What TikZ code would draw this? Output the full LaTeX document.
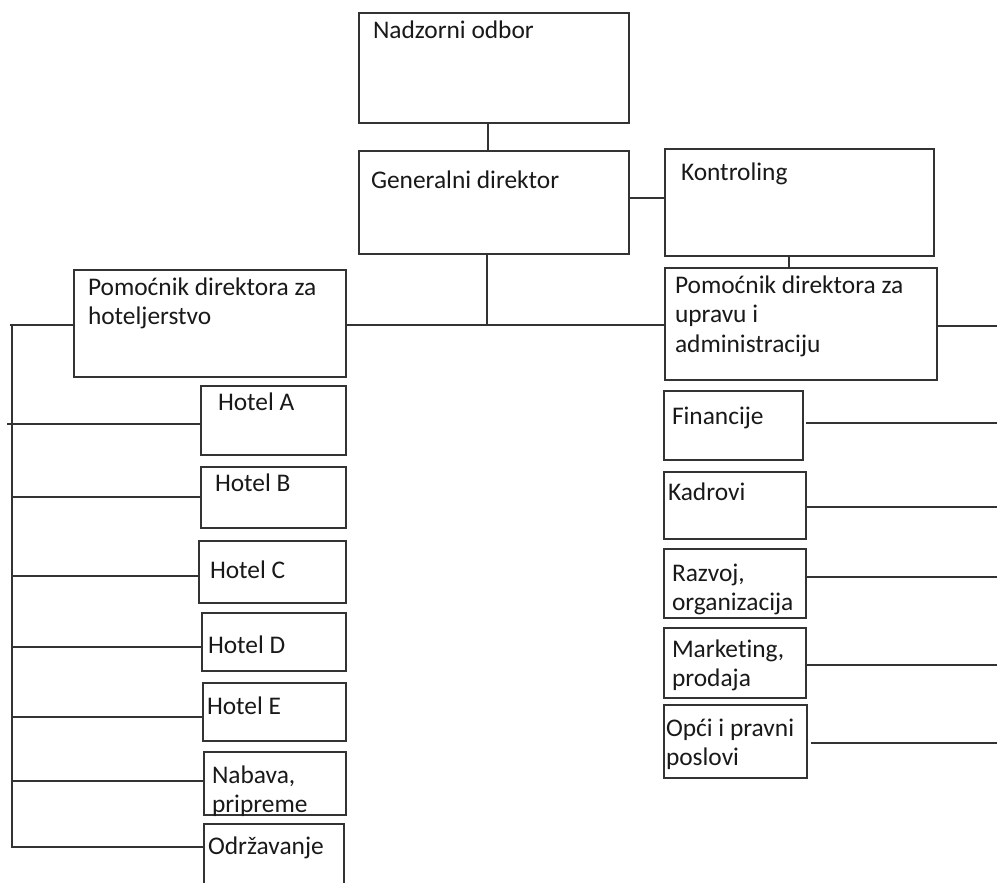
\documentclass[tikz,border=0pt]{standalone}
\usepackage{fontspec}
\setmainfont[Ligatures={NoCommon}]{Carlito}
\usetikzlibrary{fit}
\newcommand{\mylines}[1]{\begin{tabular}[t]{@{}l@{}}#1\end{tabular}}
\begin{document}
\begin{tikzpicture}[x=1pt,y=-1pt,
  box/.style={draw=black!80, line width=1.3pt, inner sep=0pt, outer sep=0pt},
  lbl/.style={anchor=base west, inner sep=0pt, outer sep=0pt, font=\fontsize{25.4}{29.5}\selectfont, text=black!90},
  conn/.style={draw=black!80, line width=1.3pt}]
\clip (0,0) rectangle (997,883);
\fill[white] (0,0) rectangle (997,883);

% boxes
\node[box, fit={(359,13) (629,123)}] (nad) {};
\node[box, fit={(359,151) (629,254)}] (gd) {};
\node[box, fit={(665,149) (934,256)}] (kon) {};
\node[box, fit={(74,270) (346,377)}] (hot) {};
\node[box, fit={(665,268) (937,380)}] (upr) {};
\node[box, fit={(201,386) (346,455)}] (hA) {};
\node[box, fit={(201,467) (346,528)}] (hB) {};
\node[box, fit={(199,541) (346,603)}] (hC) {};
\node[box, fit={(202,613) (346,671)}] (hD) {};
\node[box, fit={(203,683) (346,741)}] (hE) {};
\node[box, fit={(204,752) (346,815)}] (nab) {};
\node[box, fit={(204,824) (344,890)}] (odr) {};
\node[box, fit={(664,391) (803,460)}] (fin) {};
\node[box, fit={(664,472) (806,539)}] (kad) {};
\node[box, fit={(664,549) (806,618)}] (raz) {};
\node[box, fit={(664,628) (806,698)}] (mar) {};
\node[box, fit={(664,705) (807,778)}] (opc) {};

% labels
\node[lbl] (tnad) at (373,39) {Nadzorni odbor};
\node[lbl] (tgd) at (371,188) {Generalni direktor};
\node[lbl] (tkon) at (681,180) {Kontroling};
\node[lbl] (thot) at (88,295) {\mylines{Pomoćnik direktora za\\hoteljerstvo}};
\node[lbl] (tupr) at (675,293) {\mylines{Pomoćnik direktora za\\upravu i\\administraciju}};
\node[lbl] (thA) at (218,410) {Hotel A};
\node[lbl] (thB) at (215,491) {Hotel B};
\node[lbl] (thC) at (210,578) {Hotel C};
\node[lbl] (thD) at (208,653) {Hotel D};
\node[lbl] (thE) at (207,714) {Hotel E};
\node[lbl] (tnab) at (212,783) {\mylines{Nabava,\\pripreme}};
\node[lbl] (todr) at (208,854) {Održavanje};
\node[lbl] (tfin) at (672,424) {Financije};
\node[lbl] (tkad) at (668,500) {Kadrovi};
\node[lbl] (traz) at (672,581) {\mylines{Razvoj,\\organizacija}};
\node[lbl] (tmar) at (672,657) {\mylines{Marketing,\\prodaja}};
\node[lbl] (topc) at (666,736) {\mylines{Opći i pravni\\poslovi}};

% helper coordinates
\coordinate (cx) at (488,0);
\coordinate (kx) at (789,0);
\coordinate (jn) at (487,326);
\coordinate (trk) at (12,0);
\coordinate (trtop) at (12,325);
\coordinate (trbot) at (12,848);
\coordinate (redge) at (997,0);

% top connectors
\draw[conn] (nad.south -| cx) -- (gd.north -| cx);
\draw[conn] ([yshift=4.5pt]gd.east) -- ([yshift=4.5pt]gd.east -| kon.west);
\draw[conn] (kon.south -| kx) -- (upr.north -| kx);
\draw[conn] (gd.south -| jn) -- (jn);
\draw[conn] ([yshift=-1.5pt]hot.east) -- ([yshift=-1.5pt]hot.east -| upr.west);
\draw[conn] ([yshift=-2pt]upr.east) -- ([yshift=-2pt]upr.east -| redge);

% left trunk
\draw[conn] (trtop) -- (trbot);
\draw[conn] ([yshift=-1.5pt]hot.west) -- ([yshift=-1.5pt,xshift=-2pt]hot.west -| trk);
\draw[conn] ([yshift=-3.5pt]hA.west) -- ([yshift=-3.5pt,xshift=-5pt]hA.west -| trk);
\draw[conn] ([yshift=0.5pt]hB.west) -- ([yshift=0.5pt]hB.west -| trk);
\draw[conn] ([yshift=-4pt]hC.west) -- ([yshift=-4pt]hC.west -| trk);
\draw[conn] ([yshift=-5pt]hD.west) -- ([yshift=-5pt]hD.west -| trk);
\draw[conn] ([yshift=-5pt]hE.west) -- ([yshift=-5pt]hE.west -| trk);
\draw[conn] ([yshift=2.5pt]nab.west) -- ([yshift=2.5pt]nab.west -| trk);
\draw[conn] ([yshift=10pt]odr.west) -- ([yshift=10pt]odr.west -| trk);

% right lines
\draw[conn] ([yshift=2.5pt,xshift=3pt]fin.east) -- ([yshift=2.5pt]fin.east -| redge);
\draw[conn] ([yshift=-1.5pt]kad.east) -- ([yshift=-1.5pt]kad.east -| redge);
\draw[conn] ([yshift=6.5pt]raz.east) -- ([yshift=6.5pt]raz.east -| redge);
\draw[conn] ([yshift=-2pt]mar.east) -- ([yshift=-2pt]mar.east -| redge);
\draw[conn] ([yshift=-1.5pt,xshift=4pt]opc.east) -- ([yshift=-1.5pt]opc.east -| redge);
\end{tikzpicture}
\end{document}
